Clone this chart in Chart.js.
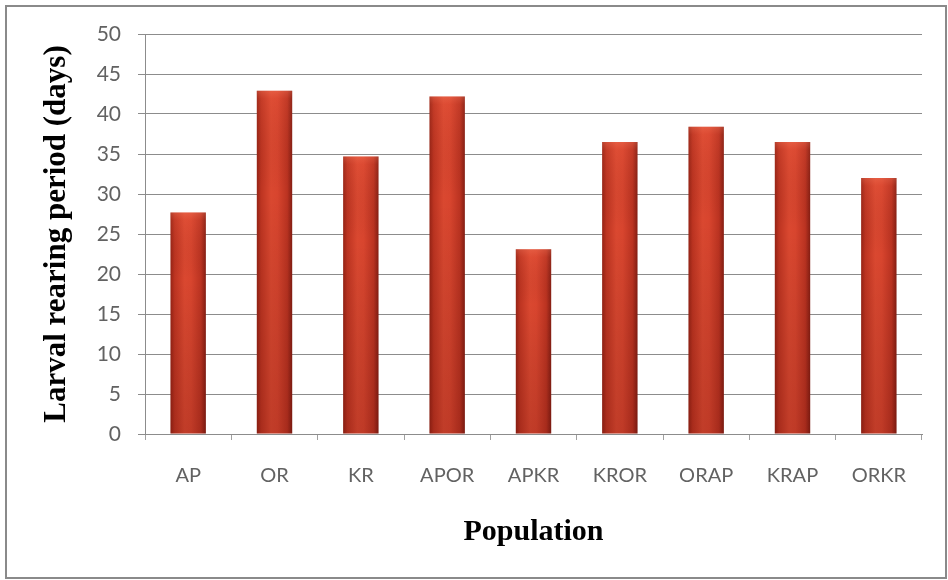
<!DOCTYPE html>
<html>
<head>
<meta charset="utf-8">
<script src="https://cdn.jsdelivr.net/npm/chart.js@4/dist/chart.umd.min.js"></script>
<style>
  html, body { margin: 0; padding: 0; background: #ffffff; }
  #wrap { width: 948px; height: 580px; position: relative; }
</style>
</head>
<body>
<div id="wrap"><canvas id="chart" width="948" height="580"></canvas></div>
<script>
// Larval rearing period by population
const categories = ['AP', 'OR', 'KR', 'APOR', 'APKR', 'KROR', 'ORAP', 'KRAP', 'ORKR'];
const rearingDays = [27.7, 42.9, 34.7, 42.2, 23.1, 36.5, 38.4, 36.5, 32.0];
const yTicks = [0, 5, 10, 15, 20, 25, 30, 35, 40, 45, 50];

const BAR_PCT = 0.41;

// Horizontal "cylinder" shading for each bar, built from the category scale
function barFill(ctx) {
  const chart = ctx.chart;
  const xs = chart.scales && chart.scales.x;
  if (!xs || !chart.chartArea) return '#c8392a';
  const cx = xs.getPixelForValue(ctx.dataIndex);
  const w = (xs.width / categories.length) * BAR_PCT;
  const g = chart.ctx.createLinearGradient(cx - w / 2, 0, cx + w / 2, 0);
  g.addColorStop(0.00, '#962315');
  g.addColorStop(0.12, '#bd3421');
  g.addColorStop(0.40, '#da4830');
  g.addColorStop(0.58, '#d8452e');
  g.addColorStop(0.86, '#bb3321');
  g.addColorStop(1.00, '#851e13');
  return g;
}

// Outer frame around the whole figure
const framePlugin = {
  id: 'frame',
  afterDraw(chart) {
    const c = chart.ctx;
    c.save();
    c.strokeStyle = '#8a8a8a';
    c.lineWidth = 2;
    c.strokeRect(6, 6, chart.width - 8, chart.height - 8);
    c.restore();
  }
};

// Soft top highlight and bottom darkening on every bar
const shadePlugin = {
  id: 'shade',
  afterDatasetsDraw(chart) {
    const c = chart.ctx;
    const meta = chart.getDatasetMeta(0);
    c.save();
    meta.data.forEach(bar => {
      const p = bar.getProps(['x', 'y', 'base', 'width'], true);
      const left = p.x - p.width / 2;
      const h = p.base - p.y;
      const g = c.createLinearGradient(0, p.y, 0, p.base);
      g.addColorStop(0, 'rgba(255,140,110,0.30)');
      g.addColorStop(Math.min(0.06, 8 / h), 'rgba(255,120,90,0.10)');
      g.addColorStop(0.3, 'rgba(0,0,0,0)');
      g.addColorStop(1, 'rgba(60,0,0,0.16)');
      c.fillStyle = g;
      c.fillRect(left, p.y, p.width, h);
    });
    c.restore();
  }
};

new Chart(document.getElementById('chart'), {
  type: 'bar',
  data: {
    labels: categories,
    datasets: [{
      data: rearingDays,
      backgroundColor: barFill,
      borderWidth: 0,
      barPercentage: BAR_PCT,
      categoryPercentage: 1.0
    }]
  },
  options: {
    responsive: false,
    animation: false,
    layout: { padding: { top: 34, right: 26, left: 0, bottom: 0 } },
    plugins: {
      legend: { display: false },
      tooltip: { enabled: false }
    },
    scales: {
      x: {
        grid: {
          display: true,
          drawOnChartArea: false,
          drawTicks: true,
          tickLength: 6,
          offset: true,
          color: '#a0a0a0'
        },
        border: { display: true, color: '#8c8c8c', width: 1 },
        ticks: {
          color: '#626262',
          font: { family: 'Lato', size: 20 },
          padding: 24,
          maxRotation: 0
        },
        title: {
          display: true,
          text: 'Population',
          color: '#000000',
          font: { family: 'Liberation Serif', size: 30, weight: 'bold' },
          padding: { top: 0, bottom: 30 }
        },
        afterFit(scale) { scale.height = 146; }
      },
      y: {
        min: 0,
        max: 50,
        afterBuildTicks(scale) { scale.ticks = yTicks.map(v => ({ value: v })); },
        grid: {
          color: '#8c8c8c',
          lineWidth: 1,
          tickLength: 7,
          drawTicks: true
        },
        border: { display: true, color: '#8c8c8c', width: 1 },
        ticks: {
          color: '#626262',
          font: { family: 'Lato', size: 21 },
          padding: 17
        },
        title: {
          display: true,
          text: 'Larval rearing period (days)',
          color: '#000000',
          font: { family: 'Liberation Serif', size: 31, weight: 'bold' },
          padding: { top: 38, bottom: 0 }
        },
        afterFit(scale) { scale.width = 145; }
      }
    }
  },
  plugins: [framePlugin, shadePlugin]
});
</script>
</body>
</html>
